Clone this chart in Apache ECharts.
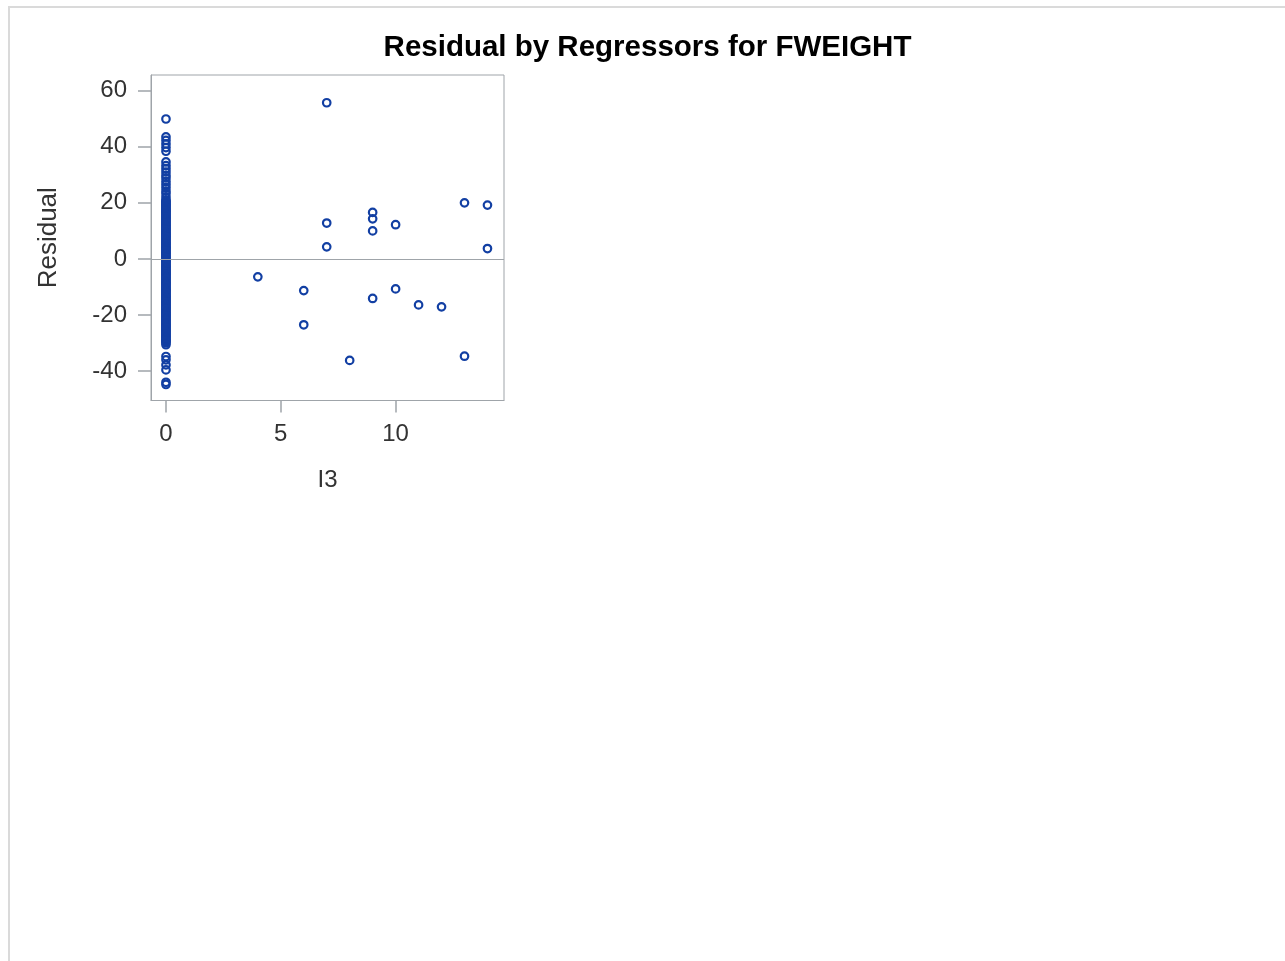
<!DOCTYPE html>
<html>
<head>
<meta charset="utf-8">
<title>Residual by Regressors for FWEIGHT</title>
<script src="https://cdn.jsdelivr.net/npm/echarts@6/dist/echarts.min.js"></script>
<style>
  html, body { margin: 0; padding: 0; background: #ffffff; width: 1285px; height: 961px; overflow: hidden; }
  #page { position: absolute; left: 8px; top: 6px; width: 1290px; height: 970px;
          border-top: 2px solid #dadada; border-left: 2px solid #dadada; }
  #chart { position: absolute; left: 10px; top: 8px; width: 1275px; height: 953px; }
</style>
</head>
<body>
<div id="page"></div>
<div id="chart"></div>
<script>
// Residuals for observations with I3 = 0 (a dense column on the left)
const residualsAtZero = [
  49.9, 43.5, 42.3, 41.0, 39.7, 38.4,
  34.6, 33.3, 32.2, 31.0, 29.8, 28.9, 27.6, 26.5, 25.4, 24.2, 23.3, 22.1,
  21.0, 20.6, 20.2, 19.7, 19.4, 18.9, 18.5, 18.1, 17.6, 17.2, 16.9, 16.4,
  16.0, 15.6, 15.1, 14.7, 14.3, 13.8, 13.4, 13.0, 12.6, 12.1, 11.8, 11.3,
  10.9, 10.5, 10.1, 9.6, 9.2, 8.8, 8.4, 8.0, 7.7, 7.2, 6.8, 6.3, 5.9, 5.5,
  5.1, 4.6, 4.2, 3.9, 3.5, 3.0, 2.6, 2.2, 1.8, 1.3, 0.9, 0.5, 0.2, -0.3,
  -0.7, -1.1, -1.5, -2.0, -2.4, -2.8, -3.2, -3.7, -4.1, -4.5, -4.9, -5.3,
  -5.6, -6.1, -6.5, -6.9, -7.3, -7.8, -8.2, -8.6, -9.0, -9.4, -9.8, -10.3,
  -10.7, -11.1, -11.5, -11.9, -12.3, -12.8, -13.2, -13.6, -14.0, -14.4,
  -14.9, -15.2, -15.6, -16.1, -16.5, -16.9, -17.3, -17.7, -18.1, -18.6,
  -19.0, -19.4, -19.8, -20.2, -20.6, -21.1, -21.5, -21.9, -22.3, -22.8,
  -23.2, -23.6, -24.0, -24.4, -24.8, -25.3, -25.7, -26.1, -26.5, -27.0,
  -27.4, -27.8, -28.2, -28.7, -29.1, -29.5, -29.9, -30.6,
  -34.8, -36.0, -37.8, -39.6, -44.0, -44.8
];

// Observations with non-zero I3
const i3Values = [4, 6, 6, 7, 7, 7, 8, 9, 9, 9, 9, 10, 10, 11, 12, 13, 13, 14, 14];
const i3Residuals = [-6.4, -11.3, -23.5, 55.7, 12.8, 4.3, -36.2, 16.6, 14.3, 10.0, -14.1,
                     12.2, -10.7, -16.4, -17.1, 20.0, -34.7, 19.2, 3.7];

// Tick labels
const xTicks = [0, 5, 10];
const yTicks = [-40, -20, 0, 20, 40, 60];

const points = residualsAtZero.map(r => [0, r])
  .concat(i3Values.map((x, i) => [x, i3Residuals[i]]));

const frameGray = '#9fa4a9';
const labelColor = '#333333';
const markerBlue = '#123fa3';
const fontFamily = '"Liberation Sans", Arial, sans-serif';

const chart = echarts.init(document.getElementById('chart'), null, { renderer: 'canvas' });
chart.setOption({
  animation: false,
  backgroundColor: 'transparent',
  title: {
    text: 'Residual by Regressors for FWEIGHT',
    left: 'center',
    top: 20,
    textStyle: { fontFamily: fontFamily, fontWeight: 'bold', fontSize: 29.5, color: '#000000' }
  },
  grid: {
    left: 141, top: 67, width: 353, height: 325.5,
    show: true, borderColor: frameGray, borderWidth: 1, backgroundColor: '#ffffff'
  },
  xAxis: {
    type: 'value',
    min: -0.652, max: 14.72,
    name: 'I3',
    nameLocation: 'middle',
    nameGap: 68,
    nameTextStyle: { fontFamily: fontFamily, fontSize: 24, color: labelColor },
    axisLine: { show: true, onZero: false, lineStyle: { color: frameGray, width: 1 } },
    axisTick: { show: true, length: 12, customValues: xTicks, lineStyle: { color: frameGray, width: 1.5 } },
    axisLabel: { customValues: xTicks, margin: 22, fontFamily: fontFamily, fontSize: 24, color: labelColor },
    splitLine: { show: false }
  },
  yAxis: {
    type: 'value',
    min: -50.5, max: 65.6,
    name: 'Residual',
    nameLocation: 'middle',
    nameGap: 89,
    nameTextStyle: { fontFamily: fontFamily, fontSize: 26, color: labelColor },
    axisLine: { show: true, onZero: false, lineStyle: { color: frameGray, width: 1 } },
    axisTick: { show: true, length: 13, customValues: yTicks, lineStyle: { color: frameGray, width: 1.5 } },
    axisLabel: { customValues: yTicks, margin: 24, fontFamily: fontFamily, fontSize: 24, color: labelColor },
    splitLine: { show: false }
  },
  series: [{
    type: 'scatter',
    data: points,
    symbol: 'circle',
    symbolSize: 7.5,
    itemStyle: { color: 'rgba(0,0,0,0)', borderColor: markerBlue, borderWidth: 2.2, opacity: 1 },
    markLine: {
      silent: true,
      symbol: 'none',
      label: { show: false },
      lineStyle: { color: frameGray, width: 1, type: 'solid' },
      data: [{ yAxis: 0 }]
    },
    z: 3
  }]
});
</script>
</body>
</html>
